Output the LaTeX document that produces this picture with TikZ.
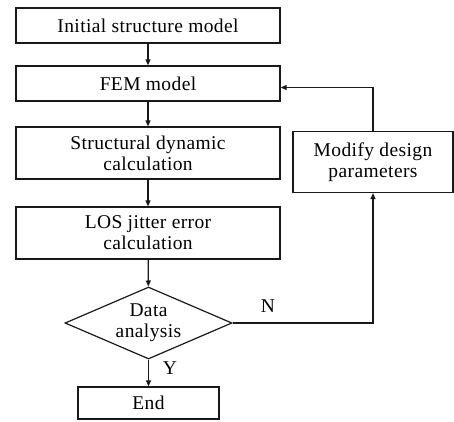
\documentclass[tikz,border=0pt]{standalone}
\usepackage{fontspec}
\setmainfont[LetterSpace=2]{Liberation Serif}
\usepackage{tikz}
\usetikzlibrary{arrows.meta,shapes,positioning}
\usepackage{xcolor}
\definecolor{fcline}{RGB}{25,25,25}
\tikzstyle{box} = [draw=fcline, line width=1.2pt, rectangle, align=center, inner sep=0pt,
  font=\fontsize{19.5}{21}\selectfont]
\tikzstyle{decision} = [draw=fcline, line width=1.2pt, diamond, aspect=2.3, align=center,
  inner sep=0pt, minimum width=167pt, minimum height=72pt, font=\fontsize{19.5}{21}\selectfont]
\tikzstyle{arrow} = [line width=1.2pt, color=fcline, -{Triangle[length=6pt,width=5pt]}]

\begin{document}
\begin{tikzpicture}[x=1pt, y=-1pt]
\useasboundingbox (0,0) rectangle (454,421);
% main chain
\node[box, minimum width=264pt, minimum height=35pt] (init) at (148,25.5) {Initial structure model};
\node[box, minimum width=264pt, minimum height=35pt] (fem) at (148,83.5) {FEM model};
\node[box, minimum width=264pt, minimum height=52pt] (dyn) at (148,153) {Structural dynamic\\calculation};
\node[box, minimum width=264pt, minimum height=52pt] (los) at (148,233) {LOS jitter error\\calculation};
\node[decision] (check) at (148.5,323) {Data\\analysis};
\node[box, minimum width=141pt, minimum height=32pt] (finish) at (148.5,403) {End};
% feedback branch
\node[box, minimum width=160pt, minimum height=61pt] (modify) at (373,162) {Modify design\\parameters};
\node[font=\fontsize{19.5}{21}\selectfont] (no) at (268,306) {N};
\node[font=\fontsize{19.5}{21}\selectfont] (yes) at (170,368) {Y};

\draw[arrow] (init) -- (fem);
\draw[arrow] (fem) -- (dyn);
\draw[arrow] (dyn) -- (los);
\draw[arrow] (los) -- (check);
\draw[arrow] (check) -- (finish);
\draw[arrow] (check.east) -| (modify.south);
\draw[arrow] (modify.north) |- ([yshift=-4pt]fem.east);
\end{tikzpicture}
\end{document}
